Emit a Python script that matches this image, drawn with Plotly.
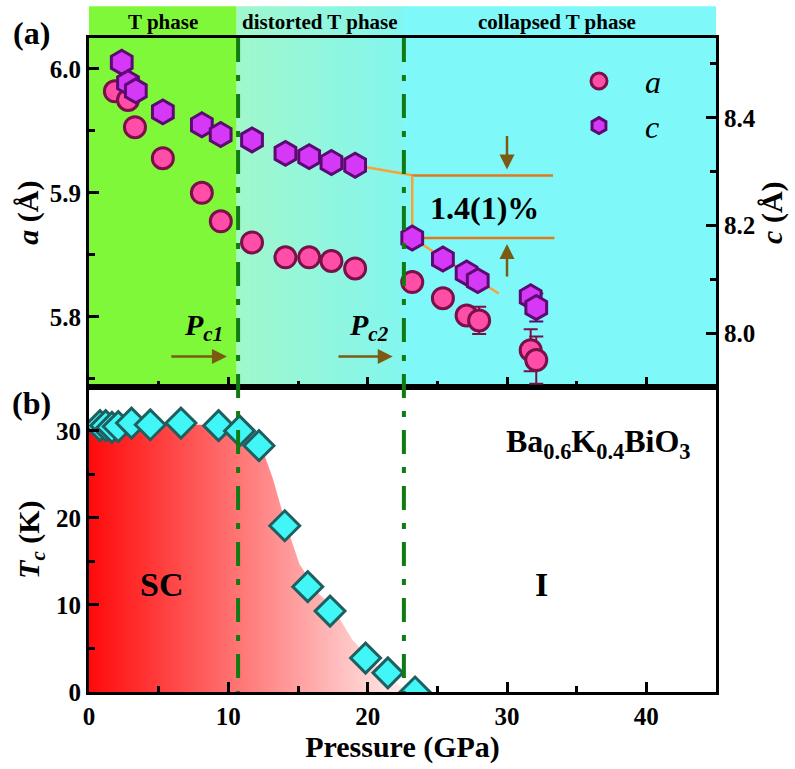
import plotly.graph_objects as go

# ---------------- data ----------------
# lattice parameter a (left axis, top panel)
p_a = [1.86, 2.8, 3.3, 5.3, 8.1, 9.46, 11.7, 14.1, 15.8, 17.4, 19.1, 23.2, 25.4, 27.1, 28.0, 31.7, 32.1]
a_vals = [5.982, 5.975, 5.953, 5.928, 5.900, 5.877, 5.860, 5.848, 5.848, 5.845, 5.839,
          5.828, 5.815, 5.801, 5.797, 5.773, 5.765]
a_err = [0, 0, 0, 0, 0, 0, 0, 0, 0, 0, 0, 0, 0, 0, 0.011, 0.017, 0.019]

# lattice parameter c (right axis, top panel)
p_c = [2.35, 2.8, 3.36, 5.3, 8.1, 9.45, 11.7, 14.1, 15.8, 17.4, 19.1, 23.2, 25.4, 27.1, 27.9, 31.7, 32.1]
c_vals = [8.503, 8.465, 8.450, 8.411, 8.387, 8.369, 8.359, 8.334, 8.328, 8.317, 8.312,
          8.177, 8.138, 8.112, 8.098, 8.068, 8.048]
c_err = [0, 0, 0, 0, 0, 0, 0, 0, 0, 0, 0, 0, 0, 0, 0, 0, 0.026]

# Tc (bottom panel)
p_tc = [0.79, 1.2, 1.65, 2.1, 3.05, 4.4, 6.6, 9.3, 10.8, 12.2, 14.05, 15.7, 17.3, 19.85, 21.45, 23.4]
tc_vals = [30.6, 30.6, 30.4, 30.5, 30.9, 30.7, 30.9, 30.6, 30.0, 28.3, 19.1, 12.1, 9.3, 3.9, 2.2, 0.0]

# SC dome boundary
sc_p = [0, 8.0, 10.1, 11.5, 12.6, 13.2, 14.0, 15.1, 16.5, 17.5, 18.9, 20.5, 21.4, 22.5, 23.0]
sc_tc = [30.7, 30.7, 30.5, 29.5, 27.2, 24.5, 20.0, 14.7, 11.3, 9.7, 6.0, 3.3, 1.8, 0.5, 0.0]

# guide lines on c (collapse of 1.4(1)%)
guide1_p = [13.9, 23.1]
guide1_c = [8.3355, 8.294]
guide2_p = [23.2, 29.4]
guide2_c = [8.177, 8.074]
upper_p = [23.1, 33.3]
upper_c = [8.293, 8.293]
lower_p = [23.2, 33.4]
lower_c = [8.177, 8.177]
step_p = [23.2, 23.2]
step_c = [8.293, 8.177]

# phase boundaries
pc1 = 10.7
pc2 = 22.6
phase_edges = [0, 10.6, 22.5, 45]
phase_names = ["T phase", "distorted T phase", "collapsed T phase"]
phase_label_p = [5.3, 16.6, 33.6]

FONT = "Liberation Serif"
GREEN = "#80f83a"
MINT = (0xa0, 0xf8, 0xcc)
CYAN_END = (0x84, 0xf6, 0xee)
CYAN = "#7ff8fa"

fig = go.Figure()

# ---- bottom panel: SC dome gradient ----
fig.add_trace(go.Scatter(
    x=sc_p, y=sc_tc, mode="none", fill="tozeroy",
    fillgradient=dict(type="horizontal", colorscale=[[0, "#ff0a0a"], [1, "#fff0f0"]]),
    xaxis="x", yaxis="y", showlegend=False, hoverinfo="skip"))

fig.add_trace(go.Scatter(
    x=p_tc, y=tc_vals, mode="markers", xaxis="x", yaxis="y", showlegend=False,
    marker=dict(symbol="diamond", size=23, color="#40f6f6",
                line=dict(color="#1f5f5f", width=3)),
    cliponaxis=True))

# ---- top panel: guide lines ----
for xs, ys, col in [(guide1_p, guide1_c, "#f7a436"), (guide2_p, guide2_c, "#f7a436"),
                    (upper_p, upper_c, "#e0791c"), (lower_p, lower_c, "#e0791c"),
                    (step_p, step_c, "#f7a436")]:
    fig.add_trace(go.Scatter(x=xs, y=ys, mode="lines", xaxis="x2", yaxis="y3",
                             line=dict(color=col, width=2.5), showlegend=False,
                             hoverinfo="skip"))

fig.add_trace(go.Scatter(
    x=p_a, y=a_vals, mode="markers", name="<i>a</i>", xaxis="x2", yaxis="y2",
    error_y=dict(type="data", array=a_err, color="#7a1048", thickness=2, width=7),
    marker=dict(symbol="circle", size=21, color="#ff4da8",
                line=dict(color="#7a1048", width=3))))

fig.add_trace(go.Scatter(
    x=p_c, y=c_vals, mode="markers", name="<i>c</i>", xaxis="x2", yaxis="y3",
    error_y=dict(type="data", array=c_err, color="#5a0a70", thickness=2, width=7),
    marker=dict(symbol="hexagon", size=24, color="#d638f8",
                line=dict(color="#5a0a70", width=3))))

# ---- backgrounds (top panel + header) ----
TOP_DOM = [0.4658, 1.0]
HEADER_TOP = 1.0487
shapes = []
shapes.append(dict(type="rect", xref="x", yref="paper", x0=phase_edges[0], x1=phase_edges[1],
                   y0=TOP_DOM[0], y1=HEADER_TOP, fillcolor=GREEN, line=dict(width=0),
                   layer="below"))
n = 48
for i in range(n):
    t = i / (n - 1)
    r = int(MINT[0] + (CYAN_END[0] - MINT[0]) * t)
    g = int(MINT[1] + (CYAN_END[1] - MINT[1]) * t)
    b = int(MINT[2] + (CYAN_END[2] - MINT[2]) * t)
    x0 = phase_edges[1] + (phase_edges[2] - phase_edges[1]) * i / n
    x1 = phase_edges[1] + (phase_edges[2] - phase_edges[1]) * (i + 1) / n + 0.05
    shapes.append(dict(type="rect", xref="x", yref="paper", x0=x0, x1=x1,
                       y0=TOP_DOM[0], y1=HEADER_TOP, fillcolor=f"rgb({r},{g},{b})",
                       line=dict(width=0), layer="below"))
shapes.append(dict(type="rect", xref="x", yref="paper", x0=phase_edges[2], x1=phase_edges[3],
                   y0=TOP_DOM[0], y1=HEADER_TOP, fillcolor=CYAN, line=dict(width=0),
                   layer="below"))
for pc in (pc1, pc2):
    shapes.append(dict(type="line", xref="x", yref="paper", x0=pc, x1=pc, y0=1, y1=0,
                       line=dict(color="#127a12", width=4, dash="24px,13px,6px,13px")))

fig.update_layout(shapes=shapes)

# ---- annotations ----
def label(text, x, y, xref, yref, size, weight="bold"):
    return dict(text=text, x=x, y=y, xref=xref, yref=yref, showarrow=False,
                xanchor="center", yanchor="middle",
                font=dict(family=FONT, size=size, color="black", weight=weight))

ann = []
for name, xp in zip(phase_names, phase_label_p):
    ann.append(label(name, xp, 1.0244, "x", "paper", 21))
ann.append(label("(a)", -0.091, 1.0076, "paper", "paper", 32))
ann.append(label("(b)", -0.091, 0.4414, "paper", "paper", 32))
ann.append(label("SC", 5.23, 12.4, "x", "y", 34))
ann.append(label("I", 32.5, 12.4, "x", "y", 34))
ann.append(label("Ba<sub>0.6</sub>K<sub>0.4</sub>BiO<sub>3</sub>", 36.6, 28.6, "x", "y", 32))
ann.append(label("1.4(1)%", 28.4, 8.232, "x2", "y3", 32))
ann.append(label("<i>P</i><sub><i>c1</i></sub>", 8.2, 5.792, "x2", "y2", 30))
ann.append(label("<i>P</i><sub><i>c2</i></sub>", 20.1, 5.792, "x2", "y2", 30))
BROWN = "#7b5a12"
# Pc arrows
for x_tail, x_head in [(5.8, 9.9), (17.8, 21.8)]:
    ann.append(dict(text="", x=x_head, y=5.768, ax=x_tail, ay=5.768, xref="x2", yref="y2",
                    axref="x2", ayref="y2", showarrow=True, arrowhead=2, arrowsize=1.2,
                    arrowwidth=2.5, arrowcolor=BROWN))
# collapse arrows
ann.append(dict(text="", x=30.0, y=8.304, ax=30.0, ay=8.369, xref="x2", yref="y3",
                axref="x2", ayref="y3", showarrow=True, arrowhead=2, arrowsize=1.2,
                arrowwidth=2.5, arrowcolor=BROWN))
ann.append(dict(text="", x=30.0, y=8.166, ax=30.0, ay=8.103, xref="x2", yref="y3",
                axref="x2", ayref="y3", showarrow=True, arrowhead=2, arrowsize=1.2,
                arrowwidth=2.5, arrowcolor=BROWN))
fig.update_layout(annotations=ann)

tickfont = dict(family=FONT, size=25, color="black", weight="bold")
titlefont = dict(family=FONT, size=30, color="black", weight="bold")
common = dict(showgrid=False, zeroline=False, showline=True, linecolor="black", linewidth=3,
              ticks="inside", ticklen=10, tickwidth=2.5, tickcolor="black", tickfont=tickfont)
minor_common = dict(ticks="inside", ticklen=6, tickwidth=2.5, tickcolor="black")

fig.update_layout(
    width=795, height=769,
    margin=dict(l=89, r=79, t=38, b=74),
    paper_bgcolor="white", plot_bgcolor="rgba(0,0,0,0)",
    font=dict(family=FONT, color="black", weight="bold"),
    xaxis=dict(domain=[0, 1], anchor="y", range=[0, 45], dtick=10, tick0=0, mirror=True,
               minor=dict(dtick=5, **minor_common),
               title=dict(text="Pressure (GPa)", font=titlefont, standoff=6), **common),
    yaxis=dict(domain=[0, TOP_DOM[0]], anchor="x", range=[0, 35], dtick=10, tick0=0, mirror=True,
               minor=dict(dtick=5, **minor_common),
               title=dict(text="<i>T</i><sub><i>c</i></sub> (K)", font=titlefont, standoff=8),
               **common),
    xaxis2=dict(domain=[0, 1], anchor="y2", range=[0, 45], dtick=10, tick0=0, mirror=True,
                matches="x", showticklabels=False,
                minor=dict(dtick=5, **minor_common), **common),
    yaxis2=dict(domain=TOP_DOM, anchor="x2", range=[5.743, 6.025], dtick=0.1, tick0=5.8,
                tickformat=".1f", minor=dict(dtick=0.05, **minor_common),
                title=dict(text="<i>a</i> (Å)", font=titlefont, standoff=3), **common),
    yaxis3=dict(domain=TOP_DOM, anchor="x2", overlaying="y2", side="right",
                range=[7.90, 8.548], dtick=0.2, tick0=8.0, tickformat=".1f",
                minor=dict(dtick=0.1, **minor_common),
                title=dict(text="<i>c</i> (Å)", font=titlefont, standoff=4), **common),
    legend=dict(x=0.74, y=0.976, xanchor="left", yanchor="top", bgcolor="rgba(0,0,0,0)",
                font=dict(family=FONT, size=32, color="black", weight="normal"),
                itemsizing="trace", itemwidth=82, tracegroupgap=0),
)

fig.write_html("out.html")
